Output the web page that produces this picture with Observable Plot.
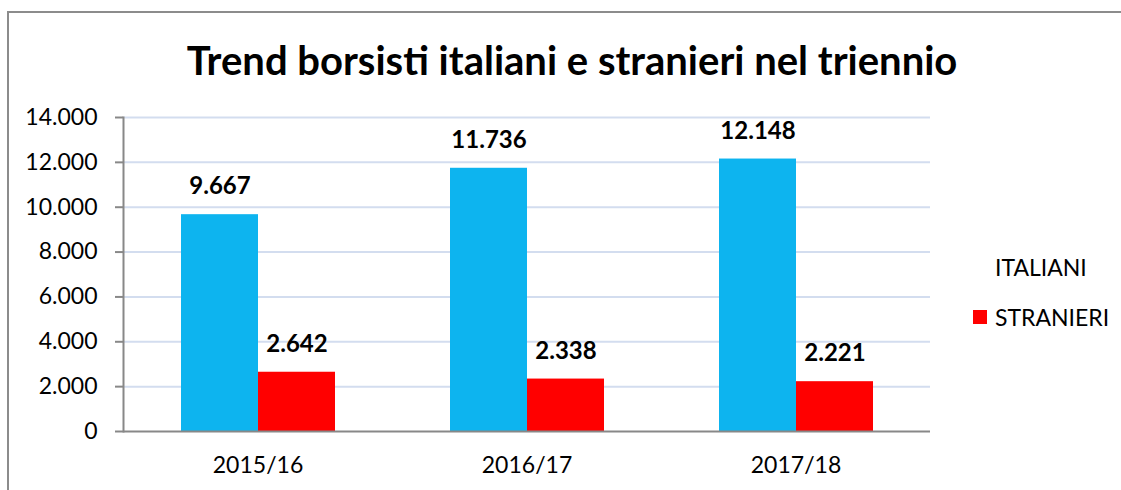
<!DOCTYPE html>
<html>
<head>
<meta charset="utf-8">
<script src="https://cdn.jsdelivr.net/npm/d3@7"></script>
<script src="https://cdn.jsdelivr.net/npm/@observablehq/plot@0.6"></script>
<style>
  html, body { margin: 0; padding: 0; background: #fff; }
  #wrap { position: relative; width: 1121px; height: 490px; overflow: hidden; font-family: Lato, "Open Sans", sans-serif; color: #000; }
  #border { position: absolute; left: 7px; top: 11px; width: 1120px; height: 490px; border: 2px solid #8c8c8c; box-sizing: border-box; }
  #title { position: absolute; left: 0; width: 1144px; top: 34px; text-align: center; font-weight: 700; font-size: 40px; line-height: 52px; }
  #chart { position: absolute; left: 0; top: 0; }
  .leg { position: absolute; left: 973px; font-size: 23px; display: flex; align-items: center; height: 30px; }
  .sw { width: 14px; height: 14px; margin-right: 8px; }
</style>
</head>
<body>
<div id="wrap">
  <div id="border"></div>
  <div id="chart"></div>
  <div id="title">Trend borsisti italiani e stranieri nel triennio</div>
  <div id="legend"></div>
</div>
<script>
const years = ["2015/16", "2016/17", "2017/18"];
const series = ["ITALIANI", "STRANIERI"];
const italiani = [9667, 11736, 12148];
const stranieri = [2642, 2338, 2221];
const yTicks = [0, 2000, 4000, 6000, 8000, 10000, 12000, 14000];
const colors = ["#0DB4EF", "#FF0000"];
const legendSwatch = ["#FFFFFF", "#FF0000"];

const locale = d3.formatLocale({decimal: ",", thousands: ".", grouping: [3], currency: ["", " €"]});
const fmt = locale.format(",d");

const data = years.flatMap((yr, i) => [
  {year: yr, series: series[0], value: italiani[i]},
  {year: yr, series: series[1], value: stranieri[i]}
]);

const chart = Plot.plot({
  width: 1121,
  height: 490,
  marginLeft: 123,
  marginRight: 191,
  marginTop: 117,
  marginBottom: 59,
  style: {fontFamily: "Lato, 'Open Sans', sans-serif", color: "#000", background: "transparent", overflow: "visible"},
  fx: {domain: years, padding: 0, label: null},
  x: {domain: series, paddingInner: 0, paddingOuter: 0.735, axis: null},
  y: {domain: [0, 14000], label: null},
  color: {domain: series, range: colors},
  marks: [
    Plot.gridY(yTicks.filter(t => t > 0), {stroke: "#D3DDEF", strokeOpacity: 1, strokeWidth: 2}),
    Plot.barY(data, {fx: "year", x: "series", y: "value", fill: "series"}),
    Plot.text(data, {fx: "year", x: "series", y: "value", text: d => fmt(d.value), dy: -28, fontWeight: "bold", fontSize: 24, fill: "#000"}),
    Plot.ruleY([0], {stroke: "#888", strokeWidth: 2}),
    Plot.frame({anchor: "left", facetAnchor: "left", stroke: "#888", strokeWidth: 2}),
    Plot.axisY({ticks: yTicks, tickFormat: fmt, tickSize: 8, tickPadding: 18, fontSize: 23, stroke: "#888", strokeWidth: 2, strokeOpacity: 1, label: null}),
    Plot.axisFx({anchor: "bottom", tickSize: 0, tickPadding: 25, fontSize: 23, label: null})
  ]
});
document.getElementById("chart").appendChild(chart);

const legend = document.getElementById("legend");
const legTops = [252, 302];
series.forEach((s, i) => {
  const el = document.createElement("div");
  el.className = "leg";
  el.style.top = legTops[i] + "px";
  el.innerHTML = `<span class="sw" style="background:${legendSwatch[i]}"></span><span>${s}</span>`;
  legend.appendChild(el);
});
</script>
</body>
</html>
